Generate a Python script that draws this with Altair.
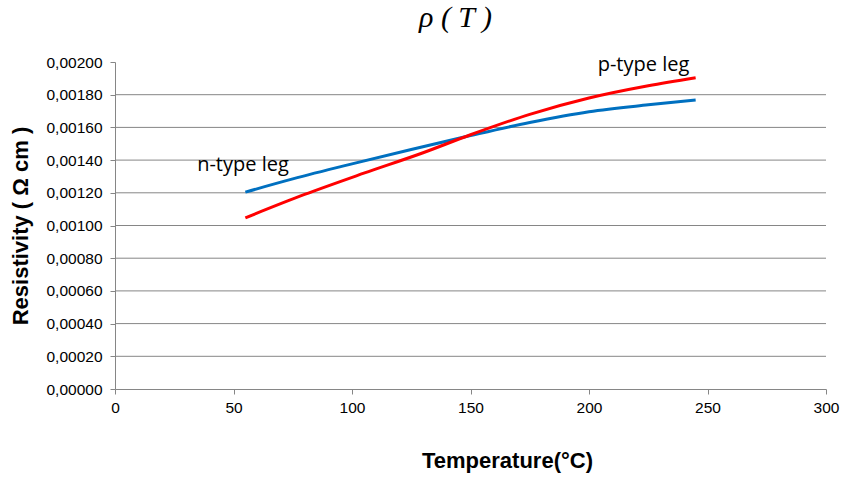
import altair as alt
import pandas as pd

n_temps = [55, 75, 100, 125, 150, 175, 200, 225, 245]
n_type = [0.001204, 0.001285, 0.001377, 0.001465, 0.001550, 0.001630, 0.001696, 0.001738, 0.001767]
p_temps = [55, 80, 105, 130, 150, 175, 200, 225, 245]
p_type = [0.001047, 0.001190, 0.001320, 0.001445, 0.001555, 0.001680, 0.001780, 0.001855, 0.001904]
grid_vals = [0.0002, 0.0004, 0.0006, 0.0008, 0.0010, 0.0012, 0.0014, 0.0016, 0.0018]
y_ticks = [0.0, 0.0002, 0.0004, 0.0006, 0.0008, 0.0010, 0.0012, 0.0014, 0.0016, 0.0018, 0.0020]
x_ticks = [0, 50, 100, 150, 200, 250, 300]
labels = ["n-type leg", "p-type leg"]
label_x = [54, 223]
label_y = [0.00137, 0.00198]

rows = []
for t, v in zip(n_temps, n_type):
    rows.append({"T": t, "rho": v, "series": "n-type leg"})
for t, v in zip(p_temps, p_type):
    rows.append({"T": t, "rho": v, "series": "p-type leg"})
df = pd.DataFrame(rows)
grid_df = pd.DataFrame({"g": grid_vals})
lab_df = pd.DataFrame({"label": labels, "T": label_x, "rho": label_y})

xs = alt.Scale(domain=[0, 300], nice=False)
ys = alt.Scale(domain=[0, 0.002], nice=False)

x_axis = alt.Axis(values=x_ticks, title="Temperature(°C)", grid=False,
                  domainColor="#868686", tickColor="#868686", tickSize=5,
                  labelFont="Liberation Sans", labelFontSize=15.5, labelColor="#000",
                  labelPadding=6, labelFlush=False, labelOverlap=False,
                  titleFont="Liberation Sans", titleFontSize=22, titleFontWeight="bold",
                  titleColor="#000", titlePadding=35, titleX=392)
y_axis = alt.Axis(values=y_ticks, title="Resistivity ( Ω cm )", grid=False,
                  labelExpr="replace(format(datum.value, '.5f'), '.', ',')",
                  domainColor="#868686", tickColor="#868686", tickSize=5,
                  labelFont="Liberation Sans", labelFontSize=15.5, labelColor="#000",
                  labelPadding=8, labelFlush=False, labelOverlap=False,
                  titleFont="Liberation Sans", titleFontSize=22, titleFontWeight="bold",
                  titleColor="#000", titlePadding=13)

grid = alt.Chart(grid_df).mark_rule(color="#868686", strokeWidth=1).encode(
    y=alt.Y("g:Q", scale=ys, axis=y_axis), x=alt.value(0), x2=alt.value(711)
)

lines = alt.Chart(df).mark_line(strokeWidth=3, interpolate="monotone").encode(
    x=alt.X("T:Q", scale=xs, axis=x_axis),
    y=alt.Y("rho:Q", scale=ys, axis=y_axis),
    color=alt.Color("series:N", scale=alt.Scale(domain=labels, range=["#0070C0", "#FF0000"]),
                    legend=None),
)

text = alt.Chart(lab_df).mark_text(font="Open Sans", fontSize=20, color="#000").encode(
    x=alt.X("T:Q", scale=xs, axis=x_axis), y=alt.Y("rho:Q", scale=ys, axis=y_axis), text="label:N"
)

chart = alt.layer(grid, lines, text).properties(
    width=711, height=327,
    title=alt.TitleParams("ρ ( T )", font="Liberation Serif", fontSize=30, fontStyle="italic",
                          fontWeight="normal", color="#000", anchor="middle", dx=-15, offset=22),
    autosize=alt.AutoSizeParams(type="none"),
    padding={"left": 115, "top": 62, "right": 17, "bottom": 90},
).configure_view(stroke=None)

chart.save("out.html", embed_options={"renderer": "svg", "actions": False})
